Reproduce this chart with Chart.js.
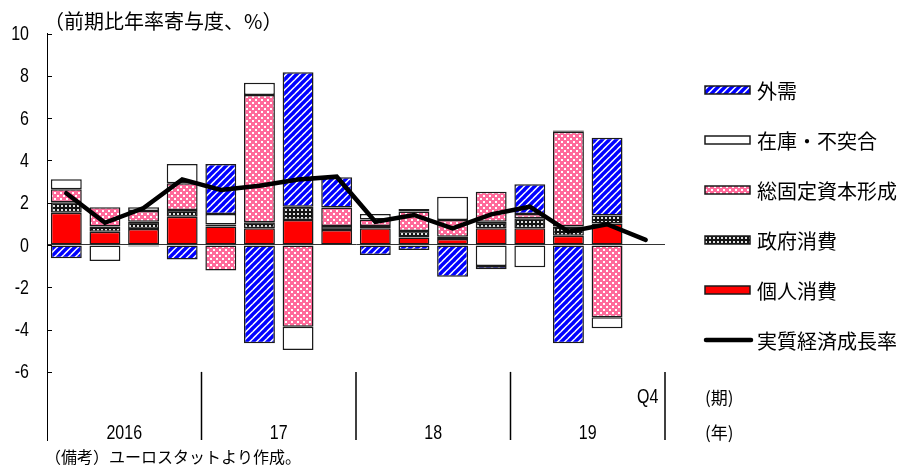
<!DOCTYPE html>
<html><head><meta charset="utf-8">
<script src="https://cdn.jsdelivr.net/npm/chart.js@4/dist/chart.umd.min.js"></script>
<style>html,body{margin:0;padding:0;background:#fff;overflow:hidden}canvas{display:block}</style>
</head><body>
<canvas id="c" width="902" height="468"></canvas>
<script>
// ---- data ----
const categories = ['2016Q1','2016Q2','2016Q3','2016Q4','2017Q1','2017Q2','2017Q3','2017Q4',
                    '2018Q1','2018Q2','2018Q3','2018Q4','2019Q1','2019Q2','2019Q3','2019Q4'];
const yearLabels = ['2016','17','18','19'];
const lastQuarterLabel = 'Q4';
const yTickValues = [-6,-4,-2,0,2,4,6,8,10];
const personalConsumption   = [1.53,0.63,0.76,1.34,0.87,0.79,1.18,0.71,0.79,0.36,0.28,0.79,0.79,0.44,1.02,null];
const governmentConsumption = [0.49,0.24,0.34,0.31,0.10,0.28,0.63,0.19,0.11,0.30,0.11,0.31,0.47,0.43,0.37,null];
const fixedCapital          = [0.61,0.91,0.51,1.27,-1.21,6.02,-3.86,0.87,0.31,0.92,0.79,1.42,0.21,4.49,-3.42,null];
const inventory             = [0.48,-0.76,0.17,0.91,0.49,0.58,-1.10,null,0.26,0.12,1.10,-0.99,-1.05,0.05,-0.52,null];
const externalDemand        = [-0.63,null,-0.07,-0.68,2.37,-4.65,6.36,1.43,-0.47,-0.24,-1.50,-0.16,1.40,-4.65,3.68,null];
const realGdpGrowth         = [2.45,1.05,1.75,3.10,2.60,2.80,3.10,3.23,1.10,1.42,0.79,1.45,1.81,0.63,0.98,0.24];
const names = {
  ext:'外需', inv:'在庫・不突合', gfcf:'総固定資本形成', gov:'政府消費', pc:'個人消費', gdp:'実質経済成長率'
};
const titleText = '（前期比年率寄与度、%）';
const noteText = '（備考）ユーロスタットより作成。';
const periodUnit = '(期)';
const yearUnit = '(年)';

// ---- patterns ----
const mainCtx = document.getElementById('c').getContext('2d');
function makePattern(w,h,draw){
  const c=document.createElement('canvas');c.width=w;c.height=h;
  const x=c.getContext('2d');draw(x,w,h);
  return mainCtx.createPattern(c,'repeat');
}
const bluePattern = makePattern(7,7,(x,w,h)=>{
  x.fillStyle='#fff';x.fillRect(0,0,w,h);
  x.strokeStyle='#0000ff';x.lineWidth=3.4;x.lineCap='square';
  for(const o of [-w,0,w]){x.beginPath();x.moveTo(o-1,h+1);x.lineTo(o+w+1,-1);x.stroke();}
});
const pinkPattern = makePattern(6,6,(x,w,h)=>{
  x.fillStyle='#ff6a9a';x.fillRect(0,0,w,h);
  x.fillStyle='#ffffff';x.fillRect(0,0,2,2);x.fillRect(3,3,2,2);
});
const dotPattern = makePattern(4,4,(x,w,h)=>{
  x.fillStyle='#141414';x.fillRect(0,0,w,h);
  x.fillStyle='#e0e0e0';x.fillRect(1,1,2,2);
});

const NUM_FONT = '"Liberation Sans",Arimo,Arial,sans-serif';
const JP_FONT = '"Noto Sans CJK JP","Noto Sans CJK SC",sans-serif';
const NARROW = 0.8;

function barDs(label,data,fill){
  return {type:'bar',label,data,backgroundColor:fill,borderColor:'#1a1a1a',borderWidth:1.5,
    borderSkipped:false,stack:'bars',order:1,barPercentage:0.8,categoryPercentage:1};
}

const legendItems = [
  {name:names.ext, fill:bluePattern},
  {name:names.inv, fill:'#ffffff'},
  {name:names.gfcf, fill:pinkPattern},
  {name:names.gov, fill:dotPattern},
  {name:names.pc, fill:'#ff0000'},
  {name:names.gdp, line:true}
];

function narrowText(ctx,text,px,py,align){
  ctx.save();ctx.translate(px,py);ctx.scale(NARROW,1);
  ctx.textAlign=align;ctx.fillText(text,0,0);ctx.restore();
}

const overlay = {
  id:'overlay',
  afterDraw(chart){
    const ctx=chart.ctx, x=chart.scales.x, y=chart.scales.y, ca=chart.chartArea;
    ctx.save();
    ctx.fillStyle='#000';ctx.textBaseline='middle';
    // y tick marks (inside) and labels
    ctx.strokeStyle='#000';ctx.lineWidth=1;
    ctx.font='20px '+NUM_FONT;
    for(const v of yTickValues){
      const yp=y.getPixelForValue(v);
      const py=Math.round(yp)+0.5;
      ctx.beginPath();ctx.moveTo(ca.left,py);ctx.lineTo(ca.left+5,py);ctx.stroke();
      narrowText(ctx,String(v),29,yp+1,'right');
    }
    // year dividers
    const yTop=y.getPixelForValue(-6), yBot=ca.bottom;
    ctx.lineWidth=1.5;
    for(let k=1;k<=4;k++){
      const px = k<4 ? (x.getPixelForValue(4*k-1)+x.getPixelForValue(4*k))/2 : ca.right;
      ctx.beginPath();ctx.moveTo(px,yTop);ctx.lineTo(px,yBot);ctx.stroke();
    }
    // category labels
    for(let k=0;k<4;k++){
      const cx=(x.getPixelForValue(4*k)+x.getPixelForValue(4*k+3))/2;
      narrowText(ctx,yearLabels[k],cx,433,'center');
    }
    narrowText(ctx,lastQuarterLabel,x.getPixelForValue(15)+2,397,'center');
    ctx.textAlign='left';
    ctx.font='17px '+JP_FONT;
    ctx.fillText(periodUnit,705,398);
    ctx.fillText(yearUnit,705,433);
    // title
    ctx.font='20px '+JP_FONT;
    ctx.fillText(titleText,44,21);
    // footnote
    ctx.font='16px '+JP_FONT;
    ctx.fillText(noteText,45,457);
    // legend
    ctx.font='20px '+JP_FONT;
    legendItems.forEach((it,i)=>{
      const cy=90+i*50;
      if(it.line){
        ctx.strokeStyle='#000';ctx.lineWidth=4.5;ctx.lineCap='round';
        ctx.beginPath();ctx.moveTo(706,cy);ctx.lineTo(751,cy);ctx.stroke();
      } else {
        ctx.fillStyle=it.fill;ctx.fillRect(705,cy-4,45,8);
        ctx.strokeStyle='#1a1a1a';ctx.lineWidth=1.5;ctx.strokeRect(705,cy-4,45,8);
      }
      ctx.fillStyle='#000';ctx.fillText(it.name,757,cy+1);
    });
    ctx.restore();
  }
};

new Chart(document.getElementById('c'),{
  data:{
    labels:categories,
    datasets:[
      barDs(names.pc,personalConsumption,'#ff0000'),
      barDs(names.gov,governmentConsumption,dotPattern),
      barDs(names.gfcf,fixedCapital,pinkPattern),
      barDs(names.inv,inventory,'#ffffff'),
      barDs(names.ext,externalDemand,bluePattern),
      {type:'line',label:names.gdp,data:realGdpGrowth,borderColor:'#000',borderWidth:4.5,
       pointRadius:0,tension:0,stack:'gdp',order:0,borderCapStyle:'round',fill:false}
    ]
  },
  options:{
    responsive:false,animation:false,
    layout:{padding:{left:0,top:33.5,right:237,bottom:28}},
    plugins:{legend:{display:false},tooltip:{enabled:false}},
    scales:{
      x:{display:false,stacked:true,offset:true},
      y:{stacked:true,min:-9.22,max:10,
        afterFit(s){s.width=47;},
        afterBuildTicks(s){s.ticks=yTickValues.map(v=>({value:v}));},
        border:{display:true,color:'#000',width:1},
        grid:{drawTicks:false,color:c=>c.tick&&c.tick.value===0?'#333':'rgba(0,0,0,0)',lineWidth:1},
        ticks:{display:false}
      }
    }
  },
  plugins:[overlay]
});
</script>
</body></html>
